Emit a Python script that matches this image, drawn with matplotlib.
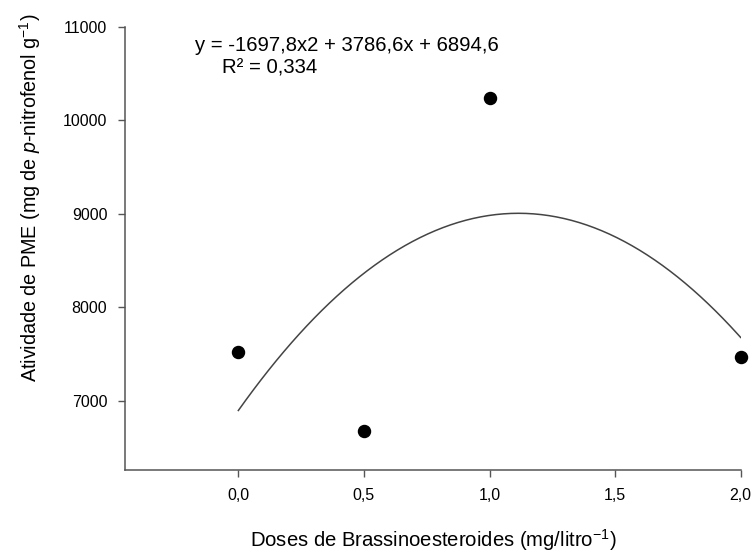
import numpy as np
import matplotlib
matplotlib.use("Agg")
import matplotlib.pyplot as plt

plt.rcParams['font.family'] = ['Liberation Sans', 'DejaVu Sans']
plt.rcParams['mathtext.fontset'] = 'custom'
plt.rcParams['mathtext.rm'] = 'Liberation Sans'
plt.rcParams['mathtext.it'] = 'Liberation Sans:italic'

# data
doses = [0.0, 0.5, 1.0, 2.0]
pme = [7520, 6675, 10245, 7465]

# fitted quadratic as printed on the chart
coef_a = -1697.8
coef_b = 3786.6
coef_c = 6894.6
eq_text = "y = -1697,8x2 + 3786,6x + 6894,6"
r2_text = "R² = 0,334"

xticks = [0.0, 0.5, 1.0, 1.5, 2.0]
xtick_labels = ["0,0", "0,5", "1,0", "1,5", "2,0"]
yticks = [7000, 8000, 9000, 10000, 11000]

fig = plt.figure(figsize=(7.55, 5.52), dpi=100)
ax = fig.add_axes([0.166, 0.149, 0.815, 0.802])

# curve
xc = np.linspace(0, 2, 200)
yc = coef_a * xc**2 + coef_b * xc + coef_c
ax.plot(xc, yc, color='#444444', lw=1.1, zorder=2)

ax.scatter(doses, pme, s=75, color='black', zorder=3, clip_on=False)

ax.set_xlim(-0.45, 2.0)
ax.set_ylim(6260, 11000)
ax.set_xticks(xticks)
ax.set_xticklabels(xtick_labels)
ax.set_yticks(yticks)

for s in ['top', 'right']:
    ax.spines[s].set_visible(False)
for s in ['left', 'bottom']:
    ax.spines[s].set_color('#555555')
    ax.spines[s].set_linewidth(1.1)
ax.tick_params(direction='out', length=5, width=1.0, color='#555555',
               labelsize=11.5, pad=8)

# axis titles placed like the original (y title sits above the axis centre)
fig.text(433 / 755, 1 - 540 / 552, "Doses de Brassinoesteroides (mg/litro$^{-1}$)",
         fontsize=14.6, ha='center', va='center')
fig.text(30 / 755, 1 - 198 / 552, "Atividade de PME (mg de $\\it{p}$-nitrofenol g$^{-1}$)",
         fontsize=14.2, ha='center', va='center', rotation=90)

ax.text(-0.171, 10745, eq_text, fontsize=14.6, ha='left', va='baseline')
ax.text(0.125, 10500, r2_text, fontsize=14.6, ha='center', va='baseline')

fig.savefig("out.png", dpi=100)
